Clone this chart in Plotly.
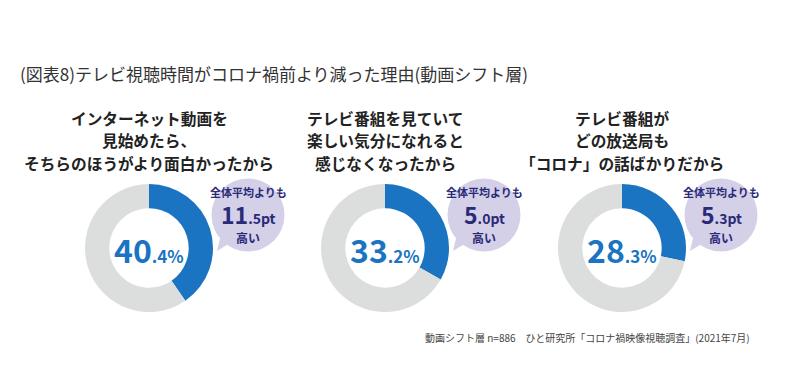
import math
import plotly.graph_objects as go

W, H = 800, 390

title = "(図表8)テレビ視聴時間がコロナ禍前より減った理由(動画シフト層)"
categories = [
    "インターネット動画を<br>見始めたら、<br>そちらのほうがより面白かったから",
    "テレビ番組を見ていて<br>楽しい気分になれると<br>感じなくなったから",
    "テレビ番組が<br>どの放送局も<br>「コロナ」の話ばかりだから",
]
values = [40.4, 33.2, 28.3]
diffs = [11.5, 5.0, 5.3]
bubble_head = "全体平均よりも"
bubble_tail = "高い"
source = "動画シフト層 n=886　ひと研究所「コロナ禍映像視聴調査」(2021年7月)"

BLUE = "#1b74c1"
GRAY = "#dcdddd"
LAV = "#d4d0e8"
NAVY = "#2a2a78"
FONT = "Noto Sans CJK JP"

centers_x = [149, 385, 622]
cy = 248
R = 64
bub_dx, bub_dy, bub_r = 99, -33, 36.5

def px(x):
    return x / W

def py(y):
    return 1 - y / H

fig = go.Figure()
shapes = []
annotations = []

for i, (cat, v, d) in enumerate(zip(categories, values, diffs)):
    cx = centers_x[i]
    fig.add_trace(go.Pie(
        values=[v, 100 - v],
        marker=dict(colors=[BLUE, GRAY], line=dict(width=0)),
        hole=0.62, sort=False, direction="clockwise", rotation=0,
        textinfo="none", hoverinfo="skip", showlegend=False,
        domain=dict(x=[px(cx - R), px(cx + R)], y=[py(cy + R), py(cy - R)]),
    ))
    # percent label
    ip = int(v)
    dec = f"{v:.1f}".split(".")[1]
    annotations.append(dict(
        x=px(cx), y=py(cy + 1), xref="paper", yref="paper", showarrow=False,
        xanchor="center", yanchor="middle",
        text=f"<b><span style='font-size:32px'>{ip}</span><span style='font-size:17px'>.{dec}%</span></b>",
        font=dict(family=FONT, color=BLUE, size=17),
    ))
    # subtitle, one line per annotation
    for k, line in enumerate(cat.split("<br>")):
        annotations.append(dict(
            x=px(cx), y=py(118 + 22.5 * k), xref="paper", yref="paper", showarrow=False,
            xanchor="center", yanchor="middle", align="center",
            text=f"<b>{line}</b>",
            font=dict(family=FONT, color="#222222", size=15.7),
        ))
    # bubble
    bx, by = cx + bub_dx, cy + bub_dy
    shapes.append(dict(type="circle", xref="paper", yref="paper",
                       x0=px(bx - bub_r), x1=px(bx + bub_r),
                       y0=py(by + bub_r), y1=py(by - bub_r),
                       fillcolor=LAV, line=dict(width=0), layer="above"))
    tipx, tipy = bx - 31, by + 36
    a1, a2 = math.radians(122), math.radians(145)
    p1 = (bx + bub_r * 0.9 * math.cos(a1), by + bub_r * 0.9 * math.sin(a1))
    p2 = (bx + bub_r * 0.9 * math.cos(a2), by + bub_r * 0.9 * math.sin(a2))
    path = (f"M {px(p1[0])},{py(p1[1])} L {px(tipx)},{py(tipy)} "
            f"L {px(p2[0])},{py(p2[1])} Z")
    shapes.append(dict(type="path", xref="paper", yref="paper", path=path,
                       fillcolor=LAV, line=dict(width=0), layer="above"))
    annotations.append(dict(
        x=px(bx), y=py(by - 23), xref="paper", yref="paper", showarrow=False,
        xanchor="center", yanchor="middle", borderpad=0,
        text=f"<b>{bubble_head}</b>", font=dict(family=FONT, color=NAVY, size=11),
    ))
    di = int(d)
    dd = f"{d:.1f}".split(".")[1]
    annotations.append(dict(
        x=px(bx), y=py(by - 1), xref="paper", yref="paper", showarrow=False,
        xanchor="center", yanchor="middle", borderpad=0,
        text=f"<b><span style='font-size:23px'>{di}</span><span style='font-size:14px'>.{dd}pt</span></b>",
        font=dict(family=FONT, color=NAVY, size=14),
    ))
    annotations.append(dict(
        x=px(bx), y=py(by + 22.5), xref="paper", yref="paper", showarrow=False,
        xanchor="center", yanchor="middle", borderpad=0,
        text=f"<b>{bubble_tail}</b>", font=dict(family=FONT, color=NAVY, size=12),
    ))

annotations.append(dict(
    x=px(18), y=py(73), xref="paper", yref="paper", showarrow=False,
    xanchor="left", yanchor="middle", text=title,
    font=dict(family=FONT, color="#333333", size=17),
))
annotations.append(dict(
    x=px(752), y=py(337), xref="paper", yref="paper", showarrow=False,
    xanchor="right", yanchor="middle", text=source,
    font=dict(family=FONT, color="#444444", size=10),
))

fig.update_layout(
    width=W, height=H, margin=dict(l=0, r=0, t=0, b=0),
    paper_bgcolor="white", plot_bgcolor="white",
    shapes=shapes, annotations=annotations,
)
fig.write_html("out.html", config={"displayModeBar": False},
               post_script="document.body.style.margin='0';")
